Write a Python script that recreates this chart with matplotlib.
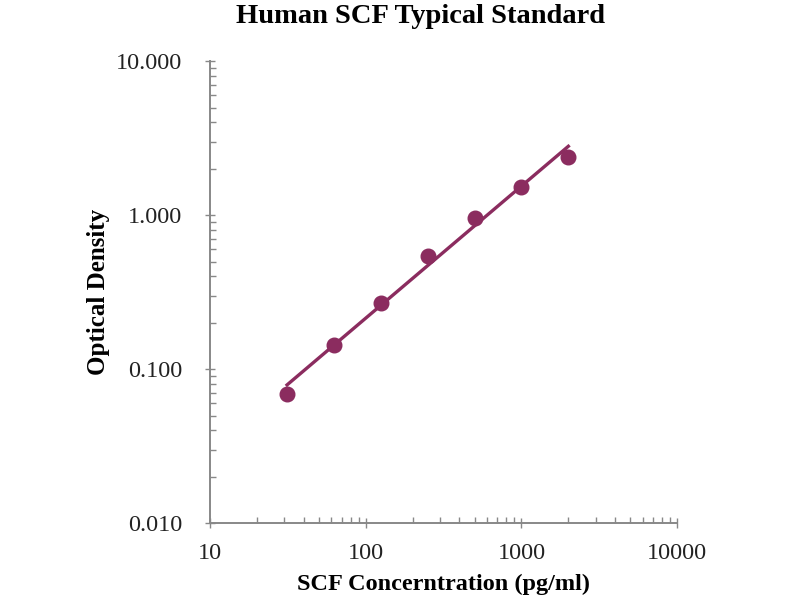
import numpy as np
import matplotlib
matplotlib.use('Agg')
import matplotlib.pyplot as plt
from matplotlib.ticker import LogLocator, FixedLocator, NullFormatter

# Standard curve data
conc = [31.25, 62.5, 125, 250, 500, 1000, 2000]
od = [0.069, 0.143, 0.270, 0.545, 0.965, 1.53, 2.39]

x_ticks = [10, 100, 1000, 10000]
x_labels = ['10', '100', '1000', '10000']
y_ticks = [0.01, 0.1, 1, 10]
y_labels = ['0.010', '0.100', '1.000', '10.000']

color = '#8b2c5f'
serif = ['Liberation Serif', 'DejaVu Serif']

# power-law fit (straight line in log-log)
k, b = np.polyfit(np.log10(conc), np.log10(od), 1)
fit_x = np.array([conc[0], conc[-1]])
fit_y = 10 ** (k * np.log10(fit_x) + b)

fig = plt.figure(figsize=(8, 6), dpi=100)
ax = fig.add_axes([0.2625, 0.128, 0.584, 0.770])

ax.plot(fit_x, fit_y, '-', color=color, lw=2.4, zorder=2)
ax.plot(conc, od, 'o', color=color, ms=10.5, zorder=3)

ax.set_xscale('log')
ax.set_yscale('log')
ax.set_xlim(10, 10000)
ax.set_ylim(0.01, 10)

ax.xaxis.set_major_locator(FixedLocator(x_ticks))
ax.set_xticklabels(x_labels)
ax.yaxis.set_major_locator(FixedLocator(y_ticks))
ax.set_yticklabels(y_labels)
ax.xaxis.set_minor_locator(LogLocator(base=10, subs=np.arange(2, 10)))
ax.yaxis.set_minor_locator(LogLocator(base=10, subs=np.arange(2, 10)))
ax.xaxis.set_minor_formatter(NullFormatter())
ax.yaxis.set_minor_formatter(NullFormatter())

for s in ['top', 'right']:
    ax.spines[s].set_visible(False)
for s in ['left', 'bottom']:
    ax.spines[s].set_color('#888888')
    ax.spines[s].set_linewidth(1.4)

ax.tick_params(which='major', direction='inout', length=7, width=1.0, color='#888888')
ax.tick_params(which='minor', direction='in', length=4, width=1.0, color='#888888')
ax.tick_params(axis='y', which='major', pad=16.5)
ax.tick_params(axis='x', which='major', pad=11)

for lab in ax.get_xticklabels() + ax.get_yticklabels():
    lab.set_family(serif)
    lab.set_fontsize(17.5)
    lab.set_color('#222222')

ax.set_xlabel('SCF Concerntration (pg/ml)', family=serif, fontsize=17.5,
              fontweight='bold', labelpad=7)
ax.set_ylabel('Optical Density', family=serif, fontsize=18,
              fontweight='bold', labelpad=4)
fig.text(0.526, 0.972, 'Human SCF Typical Standard', family=serif, fontsize=20.5,
         fontweight='bold', ha='center', va='center')

fig.savefig('out.png', dpi=100)
